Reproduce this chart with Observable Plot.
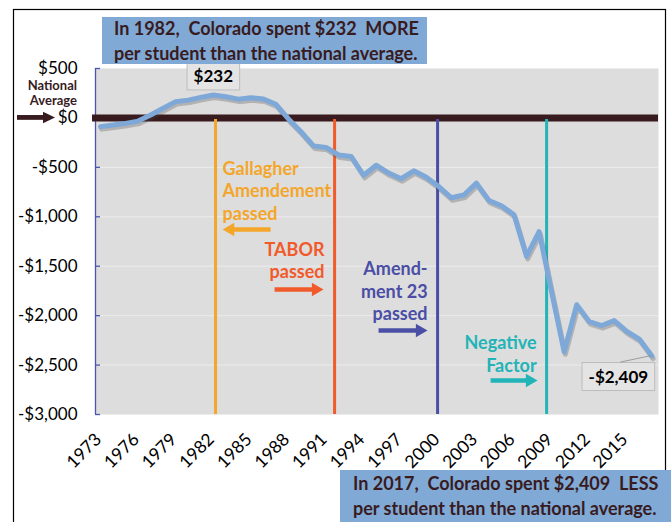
<!DOCTYPE html>
<html><head><meta charset="utf-8">
<script src="https://cdn.jsdelivr.net/npm/d3@7"></script>
<script src="https://cdn.jsdelivr.net/npm/@observablehq/plot@0.6"></script>
<style>
body{margin:0;background:#fff;}
svg{display:block;font-family:Lato,sans-serif;}
</style>
</head><body><div id="chart"></div>
<script>
// ---- data ----
const years = [1973,1974,1975,1976,1977,1978,1979,1980,1981,1982,1983,1984,1985,1986,1987,1988,1989,1990,1991,1992,1993,1994,1995,1996,1997,1998,1999,2000,2001,2002,2003,2004,2005,2006,2007,2008,2009,2010,2011,2012,2013,2014,2015,2016,2017];
const values = [-88,-72,-55,-32,30,98,165,180,208,232,215,190,203,192,138,-10,-140,-283,-298,-375,-390,-580,-478,-558,-615,-535,-600,-694,-808,-780,-660,-835,-888,-980,-1400,-1150,-1760,-2366,-1890,-2060,-2100,-2050,-2160,-2237,-2409];
const xTicks = [1973,1976,1979,1982,1985,1988,1991,1994,1997,2000,2003,2006,2009,2012,2015];
const yTicks = [500,0,-500,-1000,-1500,-2000,-2500,-3000];

const eventNames  = ["Gallagher","TABOR","Amendment 23","Negative Factor"];
const eventYears  = [1982.18, 1991.68, 1999.9, 2008.6];
const eventColors = ["#f4a62a","#f15a2b","#4a4ea5","#22b4b7"];
const eventLabels = ["Gallagher\nAmendement\npassed","TABOR\npassed","Amend-\nment 23\npassed","Negative\nFactor"];
const eventLabelY = [-729,-1437,-1746,-2383];
const eventSide   = ["right","left","left","left"];
const arrowY      = [-1129,-1736,-2150,-2656];
const arrowTail   = [1986.57,1986.89,1995.19,2004.13];
const arrowTip    = [1982.74,1990.8,1999.1,2007.88];

const peakLabel = {year:1982, value:232, text:"$232"};
const endLabel  = {year:2017, value:-2409, text:"-$2,409"};

const titleTop = ["In 1982,  Colorado spent $232  MORE","per student than the national average."];
const titleBottom = ["In 2017,  Colorado spent $2,409  LESS","per student than the national average."];

// ---- tables ----
const data = years.map((year,i)=>({year, value: values[i]}));
const events = eventNames.map((name,i)=>({
  name, year: eventYears[i], color: eventColors[i], label: eventLabels[i],
  labelY: eventLabelY[i], side: eventSide[i], ay: arrowY[i],
  tail: arrowTail[i], tip: arrowTip[i],
  dir: arrowTip[i] > arrowTail[i] ? 1 : -1
}));
events.forEach(e => { e.shaftEnd = e.tip - e.dir*0.5; });

const xDomain = [1972.6, 2017.53];
const axisBlue = "#4a55b0";
const brown = "#381b1e";
const lineBlue = "#7da8d8";
const fmt = d => (d < 0 ? "-$" : "$") + d3.format(",")(Math.abs(d));

const chart = Plot.plot({
  width: 671, height: 522,
  marginLeft: 95, marginRight: 13, marginTop: 68, marginBottom: 108,
  x: {domain: xDomain, axis: null},
  y: {domain: [-3000, 500], axis: null},
  color: {type: "identity"},
  style: {fontFamily: "Lato, sans-serif", background: "transparent", overflow: "visible"},
  marks: [
    Plot.frame({fill: "#dddddd", stroke: null}),
    Plot.gridY(yTicks, {stroke: "#ececec", strokeOpacity: 1, strokeWidth: 1}),
    Plot.ruleX([xDomain[0]], {stroke: axisBlue, strokeWidth: 1.3}),
    Plot.ruleY(yTicks, {x1: xDomain[0], x2: xDomain[0] + 0.4, stroke: axisBlue, strokeWidth: 1.3}),
    Plot.axisY({ticks: yTicks, tickSize: 0, tickPadding: 18, tickFormat: fmt, fontSize: 17, fill: "#000"}),
    Plot.axisX({ticks: xTicks, tickSize: 0, tickPadding: 22, tickRotate: -45, tickFormat: d => String(d), fontSize: 17.5, fill: "#000", dx: -2}),
    Plot.ruleY([0], {stroke: brown, strokeWidth: 7, insetLeft: -3}),
    Plot.ruleX(events, {x: "year", y1: -15, y2: -3000, stroke: "color", strokeWidth: 3}),
    Plot.text(events.filter(e => e.side === "right"), {x: "year", y: "labelY", text: "label", fill: "color", textAnchor: "start", dx: 7, fontWeight: "bold", fontSize: 18, lineHeight: 1.25}),
    Plot.text(events.filter(e => e.side === "left"), {x: "year", y: "labelY", text: "label", fill: "color", textAnchor: "end", dx: -10, fontWeight: "bold", fontSize: 18, lineHeight: 1.25}),
    Plot.link(events, {x1: "tail", x2: "shaftEnd", y1: "ay", y2: "ay", stroke: "color", strokeWidth: 4.5}),
    Plot.dot(events.filter(e => e.dir > 0), {x: "tip", y: "ay", fill: "color", symbol: "triangle", r: 5, rotate: 90, dx: -7.8}),
    Plot.dot(events.filter(e => e.dir < 0), {x: "tip", y: "ay", fill: "color", symbol: "triangle", r: 5, rotate: -90, dx: 7.8}),
    Plot.line(data, {x: "year", y: "value", stroke: "#444", strokeOpacity: 0.28, strokeWidth: 5, dx: 1.2, dy: 2.5, strokeLinejoin: "round"}),
    Plot.line(data, {x: "year", y: "value", stroke: lineBlue, strokeWidth: 5, strokeLinejoin: "round"}),
    Plot.text([peakLabel], {x: "year", y: "value", text: "text", dy: -18, fontWeight: "bold", fontSize: 17, fill: "#000", className: "vlabel"}),
    Plot.text([endLabel], {x: "year", y: "value", text: "text", dx: -33.5, dy: 21.5, fontWeight: "bold", fontSize: 17, fill: "#000", className: "vlabel"})
  ]
});

document.getElementById("chart").append(chart);
const svg = d3.select(chart);

// boxes behind value labels
svg.selectAll("g.vlabel text").each(function() {
  const b = this.getBBox();
  d3.select(this.parentNode).insert("rect", () => this)
    .attr("x", b.x - 6.5).attr("y", b.y - 3.5).attr("width", b.width + 13).attr("height", b.height + 7)
    .attr("transform", this.getAttribute("transform"))
    .attr("fill", "#e4e4e4").attr("stroke", "#bdbdbd").attr("stroke-width", 1);
});

// leader for the end label
const sx = chart.scale("x"), sy = chart.scale("y");
const ex = sx.apply(endLabel.year), ey = sy.apply(endLabel.value);
svg.append("line").attr("x1", ex - 31).attr("y1", ey + 6.5).attr("x2", ex).attr("y2", ey)
  .attr("stroke", "#8a8a8a").attr("stroke-width", 0.8);

// outer border
svg.insert("rect", ":first-child").attr("x", 13.5).attr("y", 9.5).attr("width", 652).attr("height", 600)
  .attr("fill", "none").attr("stroke", "#000").attr("stroke-width", 1.2);

// title boxes
function box(x, y, w, h, lines, tx, ty0, step) {
  const g = svg.append("g").attr("text-anchor", "start");
  g.append("rect").attr("x", x).attr("y", y).attr("width", w).attr("height", h).attr("fill", "#80a9d6");
  lines.forEach((t, i) => {
    g.append("text").attr("x", tx).attr("y", ty0 + i*step).attr("dy", "0.35em")
      .attr("text-anchor", "start")
      .attr("fill", brown).attr("font-weight", "bold").attr("font-size", 18)
      .style("white-space", "pre").text(t);
  });
}
box(102, 17, 325, 47, titleTop, 114, 29, 25);
box(340, 470, 335, 60, titleBottom, 353, 484, 25);

// National Average marker
const na = svg.append("g").attr("fill", brown).attr("font-weight", "bold").attr("font-size", 13).attr("text-anchor", "end");
na.append("text").attr("x", 77).attr("y", 85).attr("dy", "0.35em").text("National");
na.append("text").attr("x", 77).attr("y", 100).attr("dy", "0.35em").text("Average");
const zy = sy.apply(0);
svg.append("rect").attr("x", 17).attr("y", zy - 2.4).attr("width", 27).attr("height", 4.8).attr("fill", brown);
svg.append("path").attr("d", `M43,${zy-5.8}L55,${zy}L43,${zy+5.8}Z`).attr("fill", brown);
</script>
</body></html>
